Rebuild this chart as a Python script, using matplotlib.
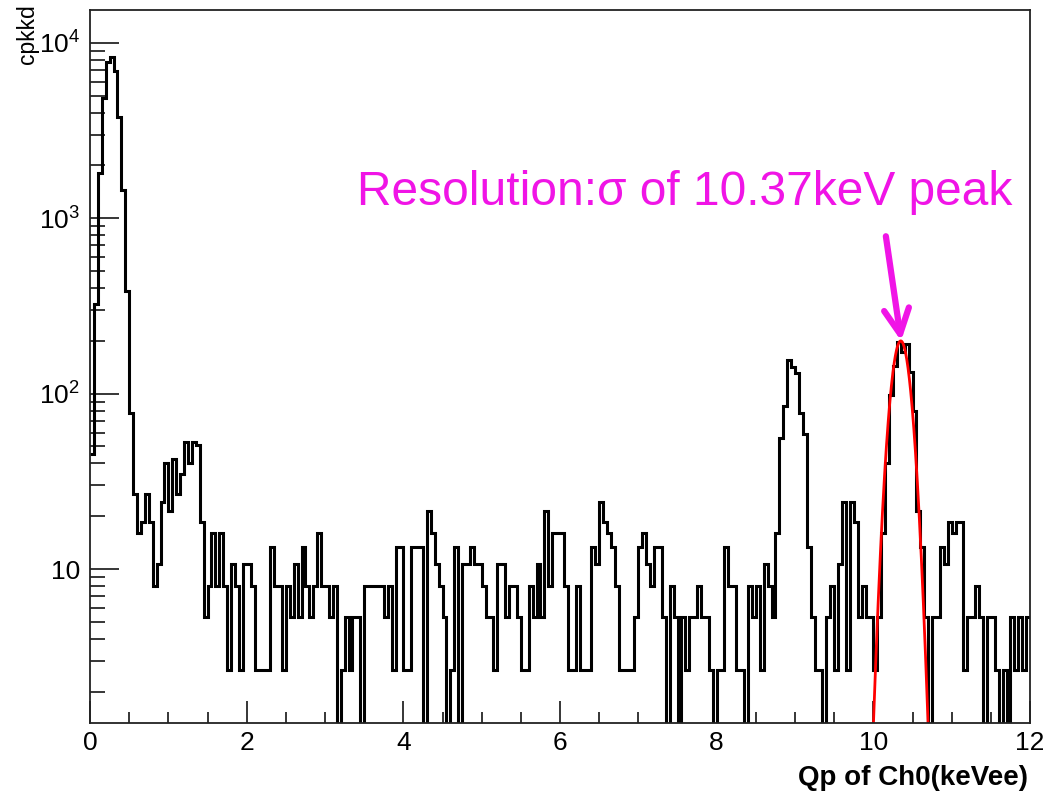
import numpy as np
import matplotlib
matplotlib.use("Agg")
import matplotlib.pyplot as plt
from matplotlib.ticker import FixedLocator, FixedFormatter, NullFormatter

plt.rcParams["font.family"] = ["Liberation Sans", "DejaVu Sans"]
plt.rcParams["mathtext.default"] = "regular"

# Histogram: 240 bins of 0.05 keVee between 0 and 12 keVee
X_MIN, X_MAX = 0.0, 12.0
N_BINS = 240
CPKKD_PER_COUNT = 2.667  # exposure normalisation

counts = [
    17, 121, 678, 1815, 2932, 3135, 2576, 1425, 545, 144,
    29, 10, 6, 7, 10, 7, 3, 4, 9, 15,
    8, 16, 10, 13, 20, 15, 20, 19, 7, 2,
    3, 6, 3, 6, 3, 1, 4, 3, 1, 4,
    4, 3, 1, 1, 1, 1, 5, 3, 3, 1,
    3, 2, 4, 2, 5, 3, 2, 3, 6, 3,
    3, 2, 3, 0, 1, 2, 1, 2, 2, 0,
    3, 3, 3, 3, 3, 2, 3, 1, 5, 5,
    1, 1, 5, 5, 5, 0, 8, 6, 4, 3,
    2, 0, 1, 5, 0, 4, 4, 5, 4, 4,
    3, 2, 2, 1, 4, 4, 2, 3, 3, 2,
    1, 1, 3, 2, 4, 2, 8, 3, 6, 6,
    6, 3, 1, 1, 3, 1, 1, 1, 5, 4,
    9, 7, 6, 5, 3, 1, 1, 1, 1, 2,
    5, 6, 4, 3, 5, 5, 2, 0, 3, 2,
    0, 2, 1, 2, 2, 3, 2, 2, 1, 0,
    1, 1, 5, 3, 3, 1, 1, 0, 3, 2,
    3, 1, 4, 3, 2, 6, 21, 32, 58, 53,
    49, 29, 22, 5, 2, 1, 1, 0, 2, 3,
    1, 4, 9, 1, 9, 7, 2, 3, 2, 2,
    1, 2, 6, 15, 37, 54, 74, 65, 72, 50,
    30, 8, 5, 2, 0, 2, 2, 5, 4, 7,
    6, 7, 7, 1, 2, 2, 3, 2, 0, 2,
    2, 1, 0, 1, 0, 2, 1, 2, 1, 2,
]

# Gaussian fit to the 10.37 keV line
FIT_AMPLITUDE = 200.0
FIT_MEAN = 10.35
FIT_SIGMA = 0.11
FIT_RANGE = (9.9, 10.85)

Y_MIN, Y_MAX = 1.326, 15400.0
Y_MAJOR = [10, 100, 1000, 10000]
Y_LABELS = ["10", "$10^{2}$", "$10^{3}$", "$10^{4}$"]
X_MAJOR = [0, 2, 4, 6, 8, 10, 12]

MAGENTA = "#f014e6"

edges = np.linspace(X_MIN, X_MAX, N_BINS + 1)
values = np.asarray(counts, dtype=float) * CPKKD_PER_COUNT

fig = plt.figure(figsize=(10.43, 8.0), dpi=100)
ax = fig.add_axes([90 / 1043, 77 / 800, 940 / 1043, 713 / 800])

ax.stairs(values, edges, baseline=None, color="black", linewidth=2.2)

xf = np.linspace(FIT_RANGE[0], FIT_RANGE[1], 400)
yf = FIT_AMPLITUDE * np.exp(-0.5 * ((xf - FIT_MEAN) / FIT_SIGMA) ** 2)
ax.plot(xf, yf, color="red", linewidth=2.0)

ax.set_yscale("log")
ax.set_xlim(X_MIN, X_MAX)
ax.set_ylim(Y_MIN, Y_MAX)

ax.yaxis.set_major_locator(FixedLocator(Y_MAJOR))
ax.yaxis.set_major_formatter(FixedFormatter(Y_LABELS))
minor_y = [m * 10 ** d for d in range(0, 5) for m in range(2, 10)]
ax.yaxis.set_minor_locator(FixedLocator([v for v in minor_y if Y_MIN < v < Y_MAX]))
ax.yaxis.set_minor_formatter(NullFormatter())

ax.xaxis.set_major_locator(FixedLocator(X_MAJOR))
ax.xaxis.set_minor_locator(FixedLocator(np.arange(0.5, 12.0, 0.5)))

ax.tick_params(axis="y", which="major", direction="in", length=21, width=1.1,
               labelsize=19, pad=7, right=False)
ax.tick_params(axis="y", which="minor", direction="in", length=11, width=1.1, right=False)
ax.tick_params(axis="x", which="major", direction="in", length=16, width=1.1,
               labelsize=19, pad=6, top=False)
ax.tick_params(axis="x", which="minor", direction="in", length=8, width=1.1, top=False)

for side in ax.spines.values():
    side.set_linewidth(1.3)
    side.set_color("#222222")

fig.text(1028 / 1043, 15 / 800, "Qp of Ch0(keVee)", ha="right", va="baseline",
         fontsize=20, fontweight="bold")
fig.text(27 / 1043, 796 / 800, "cpkkd", rotation=90, ha="center", va="top", fontsize=16.5)

ax.text(3.41, 1194, "Resolution:σ of 10.37keV peak", color=MAGENTA, fontsize=34.5,
        ha="left", va="baseline")
ax.annotate("", xy=(FIT_MEAN + 0.005, FIT_AMPLITUDE), xytext=(10.16, 790),
            arrowprops=dict(arrowstyle="->,head_length=0.9,head_width=0.45",
                            mutation_scale=20, color=MAGENTA, lw=4.5,
                            shrinkA=0, shrinkB=0))

fig.savefig("out.png", dpi=100)
